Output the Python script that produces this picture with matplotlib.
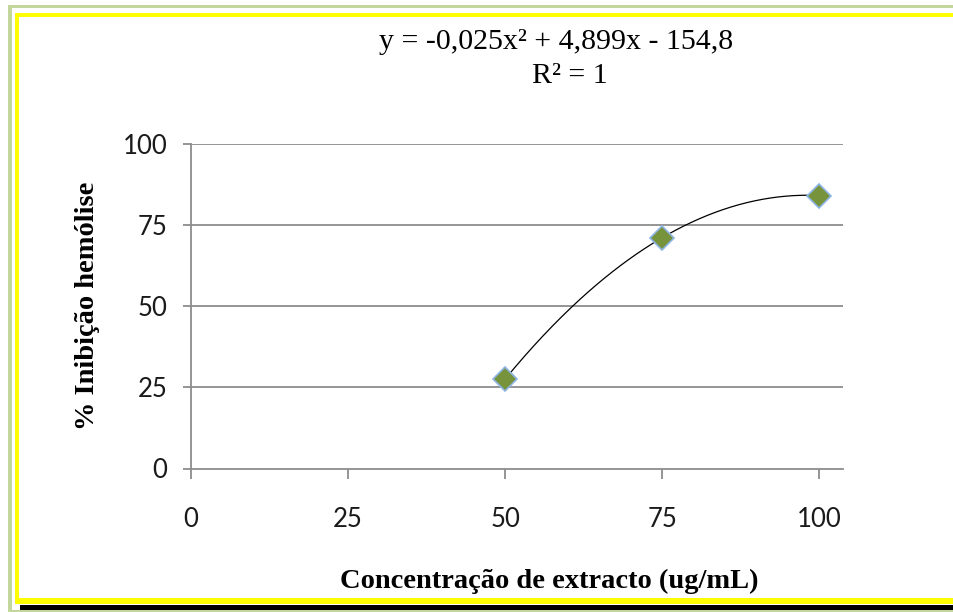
import numpy as np
import matplotlib
matplotlib.use("Agg")
import matplotlib.pyplot as plt
from matplotlib.patches import Rectangle

# data
conc = [50, 75, 100]
inhib = [27.5, 71.0, 84.0]
x_ticks = [0, 25, 50, 75, 100]
y_ticks = [0, 25, 50, 75, 100]
eq_text = "y = -0,025x² + 4,899x - 154,8"
r2_text = "R² = 1"
x_label = "Concentração de extracto (ug/mL)"
y_label = "% Inibição hemólise"

W, H = 954, 612
fig = plt.figure(figsize=(W / 100, H / 100), dpi=100)


def px_rect(x0, y0, x1, y1, color):
    # rectangle given in pixel coords from top-left
    fig.patches.append(Rectangle((x0 / W, 1 - y1 / H), (x1 - x0) / W, (y1 - y0) / H,
                                 transform=fig.transFigure, color=color, lw=0, zorder=0))


# frame around the picture
green = "#c3d69b"
px_rect(8, 5, W, 8, green)
px_rect(8, 5, 12, H, green)
px_rect(8, 610, W, H, green)
px_rect(15, 13, W, 17, "#ffff00")
px_rect(15, 13, 19, 604, "#ffff00")
px_rect(15, 598, W, 604, "#ffff00")
px_rect(20, 605, W, 609.5, "black")

ax = fig.add_axes([191 / W, 1 - 468.5 / H, (843 - 191) / W, (468.5 - 143.5) / H])
ax.set_xlim(0, 103.8)
ax.set_ylim(0, 100)

grid_c = "#8c8c8c"
for yv in y_ticks[1:]:
    ax.axhline(yv, color=grid_c, lw=1.3, zorder=1)

# 2nd order trendline through the points
coef = np.polyfit(conc, inhib, 2)
xs = np.linspace(conc[0], conc[-1], 200)
ax.plot(xs, np.polyval(coef, xs), color="black", lw=0.9, zorder=2)
ax.plot(conc, inhib, linestyle="none", marker="D", markersize=12.5,
        markerfacecolor="#77933c", markeredgecolor="#8eb4e3", markeredgewidth=1.2, zorder=3)

for s in ["top", "right"]:
    ax.spines[s].set_visible(False)
for s in ["left", "bottom"]:
    ax.spines[s].set_color(grid_c)
    ax.spines[s].set_linewidth(1.3)

ax.set_xticks(x_ticks)
ax.set_yticks(y_ticks)
ax.tick_params(axis="x", direction="out", length=7, width=1.3, color=grid_c, pad=21,
               labelsize=18.5, labelcolor="#1a1a1a")
ax.tick_params(axis="y", direction="out", length=6, width=1.3, color=grid_c, pad=11,
               labelsize=18.5, labelcolor="#1a1a1a")
for lab in ax.get_xticklabels() + ax.get_yticklabels():
    lab.set_fontfamily("Lato")

serif = "Liberation Serif"
fig.text(556 / W, 1 - 42 / H, eq_text, ha="center", va="center", fontsize=21.5, family=serif)
fig.text(570 / W, 1 - 76 / H, r2_text, ha="center", va="center", fontsize=21.5, family=serif)
fig.text(549 / W, 1 - 581 / H, x_label, ha="center", va="center", fontsize=20.5,
         family=serif, fontweight="bold")
fig.text(88 / W, 1 - 306 / H, y_label, ha="center", va="center", fontsize=20.5,
         family=serif, fontweight="bold", rotation=90)

fig.savefig("out.png", dpi=100, facecolor="white")
